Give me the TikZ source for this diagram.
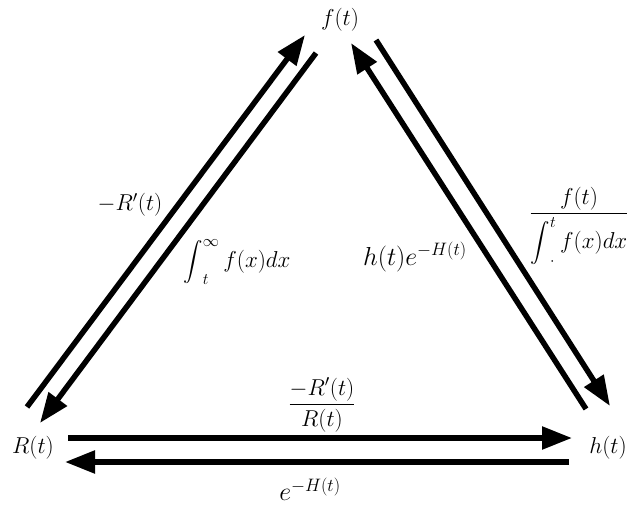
\RequirePackage{fix-cm}
\documentclass[tikz,border=0pt]{standalone}
\usepackage{amsmath}
\usepackage{graphicx}
\usetikzlibrary{arrows.meta}
\newcommand{\myint}{\mathop{\vcenter{\hbox{\scalebox{0.78}{$\displaystyle\int$}}}}\nolimits}
\newcommand{\mysup}[1]{^{\mbox{\fontsize{18}{20}\selectfont$#1$}}}
\begin{document}
\begin{tikzpicture}[x=1pt,y=-1pt,
  lbl/.style={font=\fontsize{23}{27}\selectfont, inner sep=0pt},
  biglbl/.style={font=\fontsize{26}{30}\selectfont, inner sep=0pt},
  conn/.style={line width=5.5pt, -{Triangle[length=30pt,width=22pt]}}]
\useasboundingbox (0,0) rectangle (630,511);
% main nodes
\node[lbl] (f) at (340,20) {$f(t)$};
\node[lbl] (R) at (33,448) {$R(t)$};
\node[lbl] (h) at (608,448) {$h(t)$};
% connector end points
\coordinate (RfA) at (27,407);
\coordinate (RfB) at (305,35);
\coordinate (fRA) at (316,53);
\coordinate (fRB) at (40,423);
\coordinate (fhA) at (376,40);
\coordinate (fhB) at (610,406);
\coordinate (hfA) at (586,409);
\coordinate (hfB) at (351,43);
\coordinate (RhA) at (68,438);
\coordinate (RhB) at (572,438);
\coordinate (hRA) at (569,462);
\coordinate (hRB) at (65,462);
% connectors
\draw[conn] (RfA) -- (RfB);
\draw[conn] (fRA) -- (fRB);
\draw[conn] (fhA) -- (fhB);
\draw[conn] (hfA) -- (hfB);
\draw[conn] (RhA) -- (RhB);
\draw[conn] (hRA) -- (hRB);
% labels
\node[lbl] (lRp) at (130,205) {$-R'(t)$};
\node[lbl] (lint) at (237,262) {$\myint_t^\infty f(x)dx$};
\node[biglbl] (lhe) at (415,257) {$h(t)e\mysup{-H(t)}$};
\node[lbl] (lfr) at (579,226) {$\dfrac{f(t)}{\myint_{\cdot}^{t} f(x)dx}$};
\node[lbl] (lhr) at (322,405) {$\dfrac{-R'(t)}{R(t)}$};
\node[biglbl] (le) at (310,489) {$e\mysup{-H(t)}$};
\end{tikzpicture}
\end{document}
